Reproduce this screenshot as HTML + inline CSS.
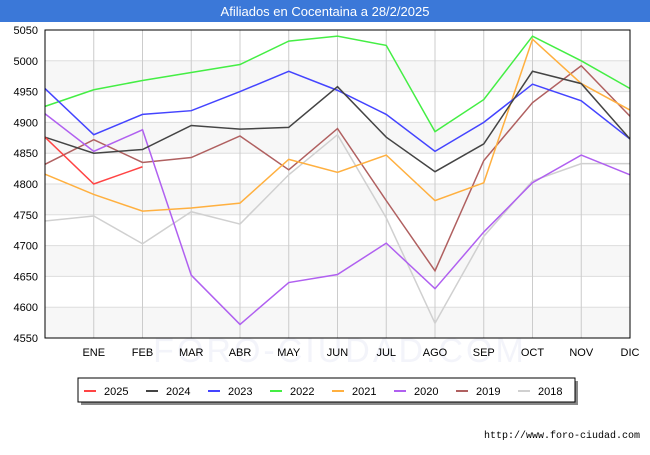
<!DOCTYPE html>
<html><head><meta charset="utf-8"><style>
body{margin:0;background:#fff;font-family:"Liberation Sans",sans-serif}
</style></head><body>
<svg width="650" height="450" xmlns="http://www.w3.org/2000/svg" id="svg">
<rect x="0" y="0" width="650" height="22" fill="#3b78d8"/>
<text x="325" y="16" fill="#fff" font-size="13" text-anchor="middle">Afiliados en Cocentaina a 28/2/2025</text>
<g id="grid"></g><g id="lines"></g>
<rect x="45" y="30" width="585" height="308" fill="none" stroke="#000" stroke-width="1"/>
<g id="legend"></g>
<text x="640" y="438" font-size="10" text-anchor="end" font-family="Liberation Mono,monospace">http://www.foro-ciudad.com</text>
</svg>
<script>
const months=["","ENE","FEB","MAR","ABR","MAY","JUN","JUL","AGO","SEP","OCT","NOV","DIC"];
const yTicks=[4550,4600,4650,4700,4750,4800,4850,4900,4950,5000,5050];
const seriesNames=["2025","2024","2023","2022","2021","2020","2019","2018"];
const seriesColors=["#ff4444","#444444","#4444ff","#44ee44","#ffb040","#b060f0","#b06060","#d0d0d0"];
const s2025=[4876,4800,4828];
const s2024=[4876,4850,4856,4895,4889,4892,4958,4876,4820,4865,4983,4963,4873];
const s2023=[4955,4880,4913,4919,4950,4983,4952,4913,4853,4900,4962,4935,4873];
const s2022=[4926,4953,4968,4981,4994,5032,5040,5025,4885,4937,5040,5000,4955];
const s2021=[4816,4783,4756,4761,4769,4840,4819,4847,4773,4802,5035,4963,4920];
const s2020=[4914,4853,4888,4652,4572,4640,4653,4704,4630,4722,4802,4847,4815];
const s2019=[4832,4872,4835,4843,4878,4823,4890,4773,4659,4838,4932,4992,4910];
const s2018=[4740,4748,4703,4755,4735,4815,4880,4745,4574,4715,4805,4833,4833];
const seriesData=[s2025,s2024,s2023,s2022,s2021,s2020,s2019,s2018];
const NS="http://www.w3.org/2000/svg";
const X0=45,X1=630,Y0=30,Y1=338,VMIN=4550,VMAX=5050;
const xs=i=>X0+i*(X1-X0)/12;
const ys=v=>Y1-(v-VMIN)*(Y1-Y0)/(VMAX-VMIN);
function mk(t,a,p){const e=document.createElementNS(NS,t);for(const k in a)e.setAttribute(k,a[k]);p.appendChild(e);return e;}
const g=document.getElementById('grid');
for(let i=0;i<yTicks.length-1;i++){
 if(i%2===0){const r=mk('rect',{x:X0,y:ys(yTicks[i+1]),width:X1-X0,height:ys(yTicks[i])-ys(yTicks[i+1]),fill:'#f7f7f7'},g);
 
 }
}
const wm=mk('text',{x:340,y:362,'font-size':34,'text-anchor':'middle',fill:'#f3f4fa','letter-spacing':3},g);wm.textContent='FORO-CIUDAD.COM';


yTicks.forEach(v=>{
 const l=mk('line',{x1:X0,x2:X1,y1:ys(v),y2:ys(v),stroke:'#dddddd'},g);
 
 
 const t=mk('text',{x:38,y:ys(v)+4,'font-size':11,'text-anchor':'end'},g);t.textContent=v;
 
 
});
months.forEach((m,i)=>{
 if(i===0)return;
 const l=mk('line',{x1:xs(i),x2:xs(i),y1:Y0,y2:Y1,stroke:'#cccccc'},g);
 
 
 const t=mk('text',{x:xs(i),y:356,'font-size':11,'text-anchor':'middle'},g);t.textContent=m;
 
 
});
const L=document.getElementById('lines');
for(let k=seriesData.length-1;k>=0;k--){
 const pts=seriesData[k].map((v,i)=>xs(i)+','+ys(v)).join(' ');
 const p=mk('polyline',{points:pts,fill:'none',stroke:seriesColors[k],'stroke-width':1.5},L);
 
 
}
const G=document.getElementById('legend');
const sh=mk('rect',{x:81,y:381,width:497,height:24,fill:'#888'},G);


const bx=mk('rect',{x:78,y:378,width:497,height:24,fill:'#fff',stroke:'#000'},G);


seriesNames.forEach((n,k)=>{
 const x=84+k*62;
 const l=mk('line',{x1:x,x2:x+12,y1:391,y2:391,stroke:seriesColors[k],'stroke-width':2},G);
 
 
 const t=mk('text',{x:x+20,y:395,'font-size':11},G);t.textContent=n;
 
 
});
</script>
</body></html>
